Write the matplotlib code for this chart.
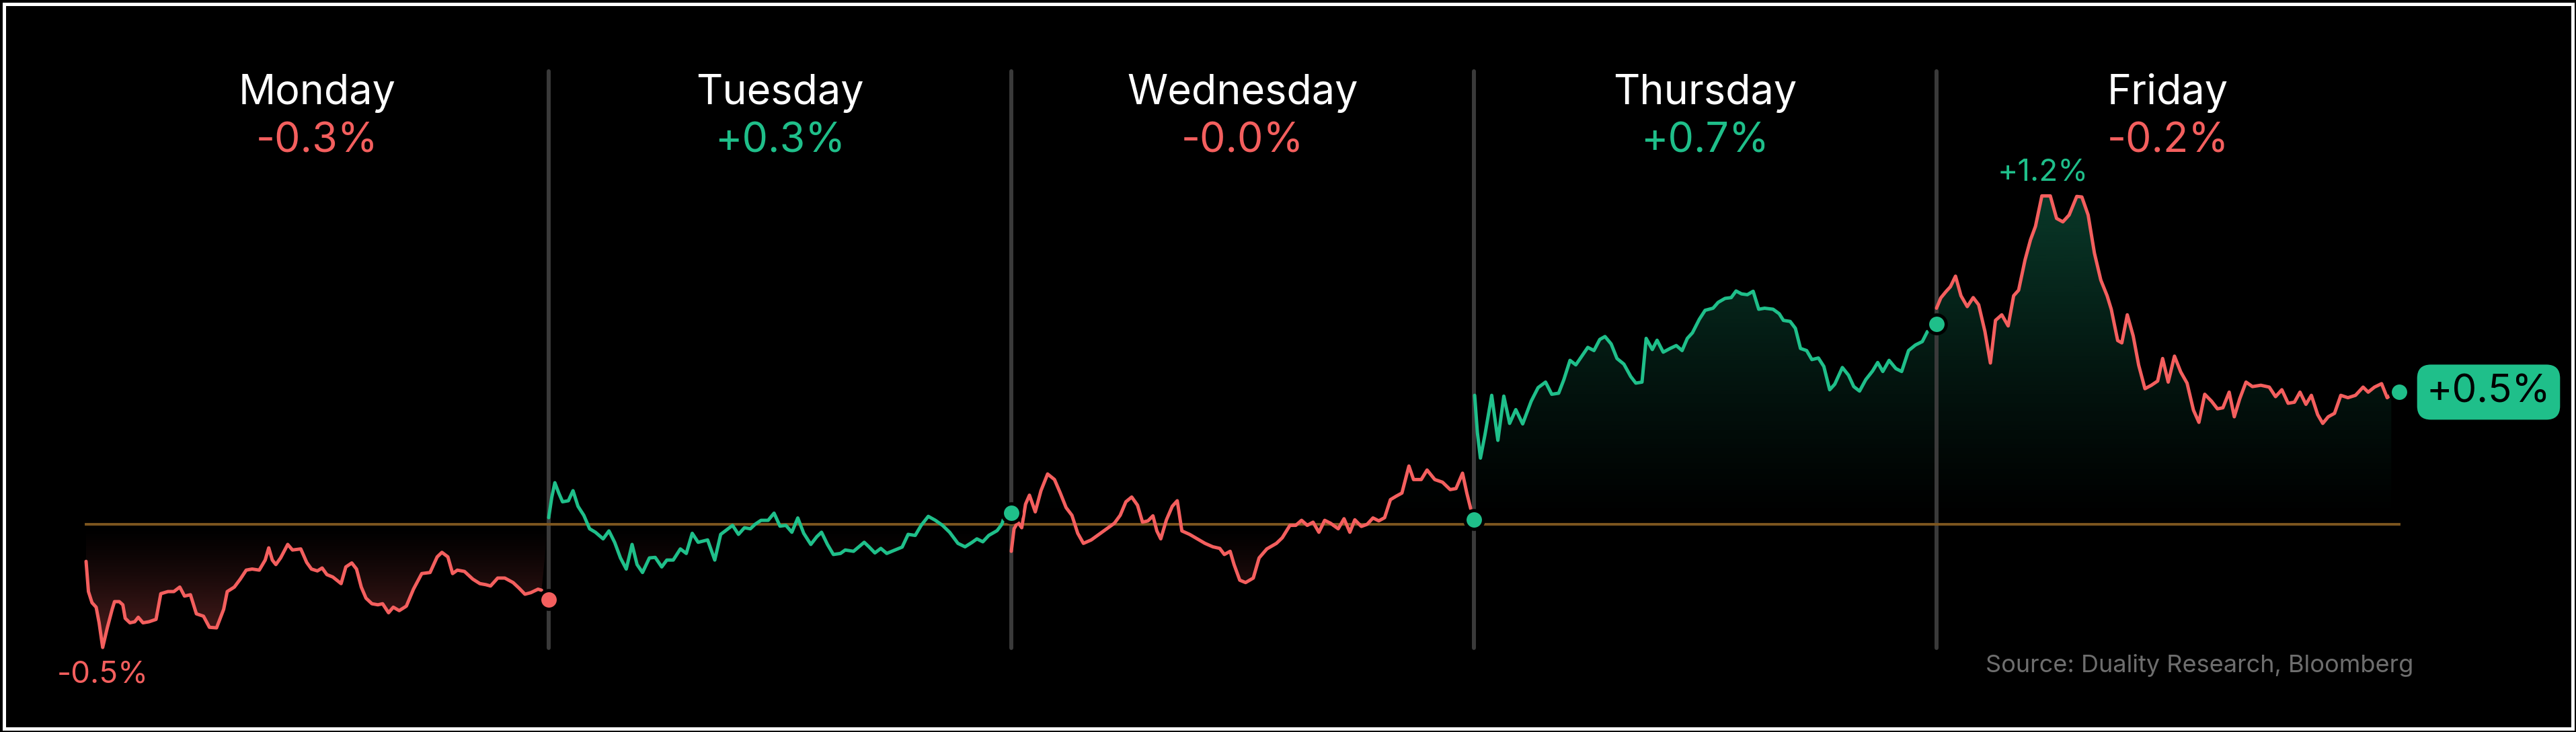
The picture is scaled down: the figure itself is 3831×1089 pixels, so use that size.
import numpy as np
import matplotlib.pyplot as plt
from matplotlib.patches import Rectangle
from matplotlib.colors import to_rgb

plt.rcParams['font.family'] = ['Inter', 'DejaVu Sans']

# weekly move, cumulative % from Monday open; each session is (minute, value)
days = ['Monday', 'Tuesday', 'Wednesday', 'Thursday', 'Friday']
day_change = [-0.3, 0.3, -0.0, 0.7, -0.2]
day_close = [-0.284, 0.042, 0.019, 0.757, 0.499]

mon = [(0, -0.140), (2, -0.254), (5, -0.296), (8.5, -0.313), (11, -0.372), (14, -0.465),
       (18, -0.389), (22, -0.321), (24, -0.292), (28, -0.292), (31, -0.304), (33, -0.355),
       (37, -0.372), (41, -0.368), (44, -0.351), (48, -0.372), (53, -0.368), (59, -0.359),
       (63, -0.262), (69, -0.254), (74, -0.254), (79, -0.237), (83, -0.271), (88, -0.266),
       (93, -0.338), (99, -0.347), (104, -0.389), (110, -0.391), (116, -0.321), (119, -0.254),
       (125, -0.237), (130, -0.207), (135, -0.173), (140, -0.169), (146, -0.173), (151, -0.135),
       (154, -0.089), (157, -0.135), (160, -0.152), (164, -0.127), (170, -0.076), (174, -0.097),
       (181, -0.093), (186, -0.144), (190, -0.169), (195, -0.176), (199, -0.165), (203, -0.190),
       (208, -0.199), (215, -0.224), (219, -0.161), (224, -0.146), (228, -0.169), (232, -0.237),
       (236, -0.279), (241, -0.300), (246, -0.304), (250, -0.300), (255, -0.334), (259, -0.313),
       (264, -0.326), (270, -0.309), (276, -0.245), (283, -0.186), (290, -0.182), (296, -0.123),
       (300, -0.106), (305, -0.123), (309, -0.186), (313, -0.173), (319, -0.178), (326, -0.207),
       (332, -0.224), (337, -0.228), (341, -0.233), (347, -0.203), (353, -0.203), (360, -0.220),
       (365, -0.241), (370, -0.264), (375, -0.258), (381, -0.245), (384, -0.249)]

tue = [(0, 0.025), (2.6, 0.102), (5.2, 0.157), (8.5, 0.118), (11.7, 0.085), (16.6, 0.089),
       (20.5, 0.127), (24.7, 0.068), (29.6, 0.034), (34.5, -0.017), (39.4, -0.030), (45.9, -0.055),
       (50.8, -0.025), (55.6, -0.068), (60.5, -0.127), (65.4, -0.169), (70.3, -0.076), (74.5, -0.152),
       (79.1, -0.182), (84.9, -0.127), (89.8, -0.125), (95.3, -0.161), (99.6, -0.135), (105, -0.135),
       (111, -0.093), (116, -0.110), (121, -0.034), (126, -0.068), (134, -0.059), (140, -0.135),
       (145, -0.038), (150, -0.021), (155, -0.004), (160, -0.038), (165, -0.013), (170, -0.017),
       (174, 0.0), (179, 0.015), (185, 0.015), (190, 0.042), (195, -0.007), (200, -0.004),
       (205, -0.030), (210, 0.024), (215, -0.034), (221, -0.076), (226, -0.047), (230, -0.030),
       (235, -0.076), (240, -0.114), (246, -0.110), (250, -0.097), (257, -0.102), (266, -0.068),
       (270, -0.085), (275, -0.108), (280, -0.091), (285, -0.110), (292, -0.097), (298, -0.086),
       (303, -0.038), (309, -0.042), (314, -0.004), (320, 0.030), (326, 0.015), (332, -0.004),
       (338, -0.030), (345, -0.072), (351, -0.085), (357, -0.068), (361, -0.055), (366, -0.066),
       (371, -0.042), (378, -0.024), (382, 0.0), (385, 0.042)]

wed = [(0, -0.102), (2.3, -0.017), (5.5, 0.008), (8.8, -0.013), (12, 0.076), (15.3, 0.110),
       (20.2, 0.047), (25, 0.127), (30.6, 0.190), (36.4, 0.169), (41.3, 0.118), (46.2, 0.063),
       (51.1, 0.034), (56, -0.034), (60.8, -0.072), (67.4, -0.059), (73.9, -0.038), (80.4, -0.017),
       (86.9, 0.004), (91.8, 0.034), (96.6, 0.085), (101.5, 0.103), (106.4, 0.072), (110.6, 0.008),
       (115.2, 0.013), (119.4, 0.032), (122.7, -0.025), (126, -0.055), (130.8, 0.017), (135.7, 0.068),
       (139.9, 0.089), (143.8, -0.025), (150.3, -0.038), (156.8, -0.055), (163.3, -0.072), (169.9, -0.085),
       (175.7, -0.091), (179.6, -0.114), (184.5, -0.102), (187.8, -0.152), (192.6, -0.211), (197.5, -0.220),
       (204, -0.203), (208.9, -0.127), (215.4, -0.093), (223.5, -0.072), (228.4, -0.051), (234.9, -0.004),
       (239.8, -0.004), (244.7, 0.015), (249.5, -0.004), (254.4, 0.008), (259.3, -0.030), (264.2, 0.015),
       (269.1, 0.004), (275.6, -0.017), (280.5, 0.021), (285.4, -0.030), (289.6, 0.017), (295.1, -0.008),
       (300, 0.0), (304.9, 0.024), (309.8, 0.013), (314.7, 0.025), (319.6, 0.093), (324.4, 0.106),
       (329.3, 0.118), (335.2, 0.220), (339.1, 0.169), (345.6, 0.169), (350.5, 0.205), (357, 0.169),
       (363.5, 0.159), (370, 0.131), (374.9, 0.135), (380.4, 0.193), (384, 0.118), (387.3, 0.059)]

thu = [(0.6, 0.487), (2.9, 0.347), (5.5, 0.250), (9.3, 0.338), (15, 0.487), (20.2, 0.317),
       (25.2, 0.484), (30.1, 0.381), (35.3, 0.433), (41.1, 0.379), (48.3, 0.465), (54.1, 0.516),
       (60.4, 0.537), (65.6, 0.491), (71.4, 0.495), (75.8, 0.546), (81, 0.619), (85.9, 0.602),
       (90.2, 0.630), (96, 0.668), (101.2, 0.656), (106.1, 0.698), (110.5, 0.709), (115.7, 0.681),
       (120.6, 0.626), (126.4, 0.605), (132.2, 0.558), (136.5, 0.533), (141.7, 0.537), (145.2, 0.702),
       (150.4, 0.660), (154.4, 0.695), (159.6, 0.650), (165.4, 0.664), (170.6, 0.675), (175.5, 0.656),
       (179.9, 0.702), (184.2, 0.723), (190, 0.774), (194.9, 0.808), (201.6, 0.816), (205.9, 0.838),
       (211.7, 0.853), (216.9, 0.856), (221, 0.881), (225.6, 0.870), (230.5, 0.867), (235.4, 0.880),
       (240.1, 0.812), (245, 0.816), (252.2, 0.812), (257.4, 0.795), (260.9, 0.770), (266.6, 0.766),
       (271, 0.740), (275.3, 0.664), (280.5, 0.656), (284.9, 0.622), (290.4, 0.628), (295, 0.596),
       (299.9, 0.508), (304.2, 0.529), (310.6, 0.592), (315.8, 0.563), (320.2, 0.520), (325.1, 0.503),
       (330.3, 0.546), (336.1, 0.579), (340.4, 0.611), (344.7, 0.577), (350, 0.619), (355.7, 0.588),
       (360.6, 0.577), (366.4, 0.656), (372.2, 0.677), (378, 0.690), (382.3, 0.728)]

fri = [(0, 0.816), (3.6, 0.855), (8.2, 0.880), (11.7, 0.897), (16, 0.937), (20.6, 0.863),
       (25.9, 0.822), (30.9, 0.856), (35.5, 0.829), (40.8, 0.728), (45.4, 0.609), (49.7, 0.770),
       (55, 0.791), (60.4, 0.749), (65, 0.863), (69.2, 0.884), (74.6, 0.998), (79.2, 1.074),
       (83.4, 1.125), (88.8, 1.240), (95.9, 1.240), (101.2, 1.155), (106.5, 1.142), (111.8, 1.168),
       (118.2, 1.238), (122.5, 1.236), (127.8, 1.168), (133.1, 1.024), (138.5, 0.922), (143.8, 0.863),
       (147.3, 0.812), (152.7, 0.694), (156.2, 0.685), (160.8, 0.791), (165.8, 0.711), (170.4, 0.601),
       (175.7, 0.512), (181.1, 0.525), (186.4, 0.541), (190.6, 0.626), (195.3, 0.537), (200.6, 0.635),
       (205.9, 0.575), (211.2, 0.533), (216.6, 0.431), (221.2, 0.385), (226.1, 0.491), (231.8, 0.465),
       (236.8, 0.436), (241.4, 0.440), (246.7, 0.499), (251, 0.406), (255.6, 0.474), (260.9, 0.537),
       (266.3, 0.520), (273.4, 0.525), (280.5, 0.518), (285.8, 0.482), (291.1, 0.508), (296.4, 0.457),
       (301.7, 0.461), (306.4, 0.499), (311.4, 0.453), (316, 0.487), (321.3, 0.414), (325.6, 0.381),
       (330.2, 0.406), (335.5, 0.419), (340.8, 0.487), (346.8, 0.478), (353.2, 0.487), (359.6, 0.518),
       (363.9, 0.499), (369.2, 0.518), (375.2, 0.531), (379.9, 0.478), (383.4, 0.491)]

sessions = [mon, tue, wed, thu, fri]
session_len = 390

GREEN = '#1fbf8a'
RED = '#f45f5e'

W, H = 3831, 1089
fig = plt.figure(figsize=(W / 100, H / 100), dpi=100, facecolor='black')
ax = fig.add_axes([0, 0, 1, 1])
ax.set_facecolor('black')

# pixel layout: x=0 at 128px, 688px per day; y=0 at 780px from top, 394px per 1%
x_lim = (-128 / 688, (W - 128) / 688)
y_lim = (-(H - 780) / 394, 780 / 394)

xs, ys = [], []
for i, s in enumerate(sessions):
    for t, v in s:
        xs.append(i + t / session_len)
        ys.append(v)
xs = np.array(xs)
ys = np.array(ys)

# gradient fill: green above zero, red below, stronger away from the baseline
rows = np.linspace(y_lim[0], y_lim[1], 900)
img = np.zeros((len(rows), 1, 4))
g = to_rgb(GREEN)
r = to_rgb(RED)
for k, v in enumerate(rows):
    if v >= 0:
        img[k, 0, :3] = g
        img[k, 0, 3] = min(0.30 * (v / 1.25) ** 1.2, 0.30)
    else:
        img[k, 0, :3] = r
        img[k, 0, 3] = min(0.34 * (-v / 0.47) ** 1.3, 0.34)
poly = ax.fill_between(xs, ys, 0, color='none', lw=0)
im = ax.imshow(img, extent=[0, 5, y_lim[0], y_lim[1]], origin='lower',
               aspect='auto', interpolation='bilinear', zorder=1)
im.set_clip_path(poly.get_paths()[0], transform=ax.transData)

# day separators and zero line
for i in range(1, 5):
    ax.plot([i, i], [-0.467, 1.711], color='#3a3a3a', lw=4.3,
            solid_capstyle='round', zorder=2)
ax.plot([0, 5], [0, 0], color='#7d561f', lw=2.8, zorder=2)

for i, s in enumerate(sessions):
    t = np.array([p[0] for p in s])
    v = np.array([p[1] for p in s])
    col = RED if np.signbit(day_change[i]) else GREEN
    ax.plot(i + t / session_len, v, color=col, lw=3.6, zorder=3,
            solid_joinstyle='round', solid_capstyle='round')
    dot_col = RED if day_close[i] < 0 else GREEN
    ax.plot(i + 1, day_close[i], 'o', ms=20, mfc=dot_col, mec='black', mew=3.5, zorder=4)

    ax.text(i + 0.5, 1.586, days[i], color='white', fontsize=44,
            ha='center', va='baseline', zorder=5)
    ax.text(i + 0.5, 1.404, f'{day_change[i]:+.1f}%', color=col, fontsize=44,
            ha='center', va='baseline', zorder=5)

# weekly low / high labels
k_min = np.argmin(ys)
k_max = np.argmax(ys)
ax.annotate(f'{ys[k_min]:+.1f}%', (xs[k_min], ys[k_min]), xytext=(0, -52),
            textcoords='offset pixels', color=RED, fontsize=33, ha='center', va='baseline')
ax.annotate(f'{ys[k_max]:+.1f}%', (xs[k_max], ys[k_max]), xytext=(2, 23),
            textcoords='offset pixels', color=GREEN, fontsize=33, ha='center', va='baseline')

# closing tag
ax.annotate(f'{day_close[-1]:+.1f}%', (5, day_close[-1]), xytext=(133, 0),
            textcoords='offset pixels', color='black', fontsize=42, ha='center', va='center',
            bbox=dict(boxstyle='round,pad=0.24,rounding_size=0.35', fc=GREEN, ec='none'),
            zorder=5)

fig.text(3589 / W, 1 - 1000 / H, 'Source: Duality Research, Bloomberg', color='#6e6e6e',
         fontsize=26, ha='right', va='baseline')

fig.patches.append(Rectangle((5.5 / W, 5.5 / H), 1 - 11 / W, 1 - 11 / H, fill=False,
                             ec='white', lw=3.6, transform=fig.transFigure, figure=fig))

ax.set_xlim(x_lim)
ax.set_ylim(y_lim)
ax.axis('off')

fig.savefig('out.png', dpi=100, facecolor='black')
